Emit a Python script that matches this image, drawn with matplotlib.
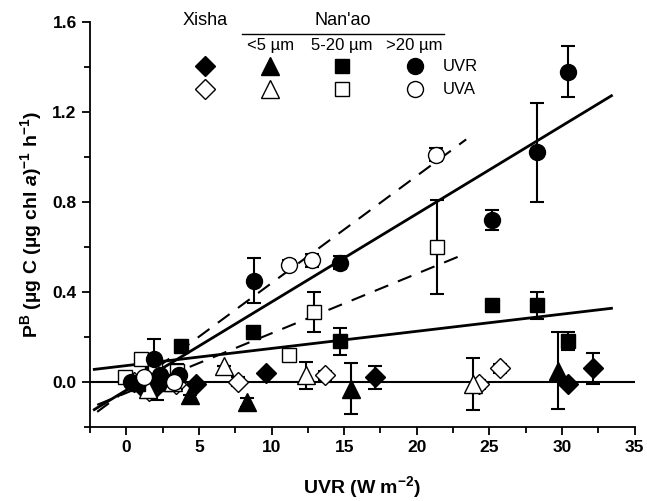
import matplotlib
matplotlib.use("Agg")
import matplotlib.pyplot as plt
from matplotlib.ticker import MultipleLocator

plt.rcParams['font.family'] = ['Liberation Sans', 'DejaVu Sans']
plt.rcParams['mathtext.fontset'] = 'custom'
plt.rcParams['mathtext.rm'] = 'Liberation Sans'
plt.rcParams['mathtext.bf'] = 'Liberation Sans:bold'
plt.rcParams['mathtext.it'] = 'Liberation Sans:italic'
plt.rcParams['mathtext.bfit'] = 'Liberation Sans:bold:italic'

# Xisha (diamonds)
xisha_uvr_x = [1.0, 2.1, 4.8, 9.6, 17.1, 30.4, 32.1]
xisha_uvr_y = [-0.02, -0.02, -0.01, 0.04, 0.02, -0.01, 0.06]
xisha_uvr_e = [0.0, 0.06, 0.0, 0.0, 0.05, 0.0, 0.07]
xisha_uva_x = [0.5, 1.6, 3.4, 7.7, 13.7, 24.3, 25.7]
xisha_uva_y = [0.0, -0.04, -0.01, 0.0, 0.03, -0.01, 0.06]
xisha_uva_e = [0.0, 0.03, 0.02, 0.02, 0.02, 0.02, 0.02]

# Nan'ao <5 um (triangles)
small_uvr_x = [1.5, 2.5, 4.4, 8.3, 15.5, 29.7]
small_uvr_y = [-0.01, 0.0, -0.06, -0.09, -0.03, 0.05]
small_uvr_e = [0.0, 0.0, 0.0, 0.02, 0.115, 0.17]
small_uva_x = [1.5, 3.2, 6.7, 12.4, 23.9]
small_uva_y = [-0.03, 0.0, 0.07, 0.03, -0.01]
small_uva_e = [0.0, 0.0, 0.0, 0.06, 0.115]

# Nan'ao 5-20 um (squares)
mid_uvr_x = [0.8, 1.8, 3.8, 8.7, 14.7, 25.2, 28.3, 30.4]
mid_uvr_y = [-0.01, 0.08, 0.16, 0.22, 0.18, 0.34, 0.34, 0.18]
mid_uvr_e = [0.0, 0.0, 0.02, 0.0, 0.06, 0.02, 0.06, 0.04]
mid_uva_x = [-0.1, 1.0, 2.0, 3.5, 11.2, 12.9, 21.4]
mid_uva_y = [0.02, 0.10, 0.07, 0.05, 0.12, 0.31, 0.60]
mid_uva_e = [0.0, 0.0, 0.0, 0.03, 0.0, 0.09, 0.21]

# Nan'ao >20 um (circles)
large_uvr_x = [0.3, 1.9, 2.3, 3.6, 8.8, 14.7, 25.2, 28.3, 30.4]
large_uvr_y = [0.0, 0.10, 0.03, 0.03, 0.45, 0.53, 0.72, 1.02, 1.38]
large_uvr_e = [0.0, 0.09, 0.0, 0.0, 0.10, 0.03, 0.045, 0.22, 0.115]
large_uva_x = [1.2, 3.3, 11.2, 12.8, 21.3]
large_uva_y = [0.02, 0.0, 0.52, 0.54, 1.01]
large_uva_e = [0.0, 0.02, 0.02, 0.03, 0.03]

# regression lines: slope, intercept, x range
fit_large_uvr = [0.0392, -0.037, -2.2, 33.4]
fit_mid_uvr = [0.00763, 0.0723, -2.2, 33.4]
fit_large_uva = [0.0477, -0.038, -2.0, 23.4]
fit_mid_uva = [0.0265, -0.049, -2.0, 23.4]

fig = plt.figure(figsize=(6.47, 5.01), dpi=100)
ax = fig.add_axes([0.139, 0.148, 0.842, 0.808])

def fitline(p, ls):
    xs = [p[2], p[3]]
    ys = [p[0] * v + p[1] for v in xs]
    if ls == '--':
        ax.plot(xs, ys, color='k', lw=1.5, dashes=(7, 5), zorder=2)
    else:
        ax.plot(xs, ys, color='k', lw=2, zorder=2)

fitline(fit_large_uvr, '-')
fitline(fit_mid_uvr, '-')
fitline(fit_large_uva, '--')
fitline(fit_mid_uva, '--')
ax.axhline(0, color='k', lw=1.5, zorder=2)

series = [
    (xisha_uvr_x, xisha_uvr_y, xisha_uvr_e, 'D', 10, True),
    (xisha_uva_x, xisha_uva_y, xisha_uva_e, 'D', 10, False),
    (small_uvr_x, small_uvr_y, small_uvr_e, '^', 13, True),
    (small_uva_x, small_uva_y, small_uva_e, '^', 13, False),
    (mid_uvr_x, mid_uvr_y, mid_uvr_e, 's', 10.5, True),
    (mid_uva_x, mid_uva_y, mid_uva_e, 's', 10.5, False),
    (large_uvr_x, large_uvr_y, large_uvr_e, 'o', 11.5, True),
    (large_uva_x, large_uva_y, large_uva_e, 'o', 11.5, False),
]
for x, y, e, m, ms, filled in series:
    fc = 'k' if filled else 'white'
    ax.errorbar(x, y, yerr=e, fmt='none', ecolor='k', elinewidth=1.5,
                capsize=5, capthick=1.5, zorder=3)
    ax.plot(x, y, m, ms=ms, mfc=fc, mec='k', mew=1, ls='none', zorder=4)

ax.set_xlim(-2.5, 35)
ax.set_ylim(-0.2, 1.6)
ax.xaxis.set_major_locator(MultipleLocator(5))
ax.xaxis.set_minor_locator(MultipleLocator(2.5))
ax.yaxis.set_major_locator(MultipleLocator(0.4))
ax.yaxis.set_minor_locator(MultipleLocator(0.2))
ax.yaxis.set_major_formatter(matplotlib.ticker.FormatStrFormatter('%.1f'))
for s in ['top', 'right']:
    ax.spines[s].set_visible(False)
for s in ['left', 'bottom']:
    ax.spines[s].set_linewidth(1.3)
ax.tick_params(which='major', direction='out', length=6, width=1.3, labelsize=12.5)
ax.tick_params(which='minor', direction='out', length=4, width=1.3)
for lab in ax.get_xticklabels() + ax.get_yticklabels():
    lab.set_fontweight('bold')

ax.set_xlabel(r'UVR (W m$^{\mathbf{-2}}$)', fontsize=14, fontweight='bold', labelpad=14)
ax.set_ylabel('P$^{\\mathbf{B}}$ (\u00b5g C (\u00b5g chl $\\mathbfit{a}$)$^{\\mathbf{-1}}$ h$^{\\mathbf{-1}}$)',
              fontsize=14, fontweight='bold', labelpad=6)

# legend drawn by hand
T = ax.transAxes
leg_cols = [0.211, 0.331, 0.463, 0.596]
leg_marks = [('D', 10), ('^', 13), ('s', 10.5), ('o', 11.5)]
for cx, (m, ms) in zip(leg_cols, leg_marks):
    ax.plot([cx], [0.891], m, ms=ms, mfc='k', mec='k', transform=T, clip_on=False)
    ax.plot([cx], [0.834], m, ms=ms, mfc='white', mec='k', mew=1, transform=T, clip_on=False)
ax.text(0.648, 0.891, 'UVR', transform=T, fontsize=12, va='center')
ax.text(0.648, 0.834, 'UVA', transform=T, fontsize=12, va='center')
ax.text(0.211, 1.003, 'Xisha', transform=T, fontsize=13, ha='center', va='center')
ax.text(0.464, 1.003, "Nan'ao", transform=T, fontsize=13, ha='center', va='center')
ax.plot([0.280, 0.650], [0.970, 0.970], color='k', lw=1, transform=T, clip_on=False)
for cx, t in zip(leg_cols[1:], ['<5 \u00b5m', '5-20 \u00b5m', '>20 \u00b5m']):
    ax.text(cx, 0.941, t, transform=T, fontsize=12, ha='center', va='center')

fig.savefig('out.png', dpi=100)
